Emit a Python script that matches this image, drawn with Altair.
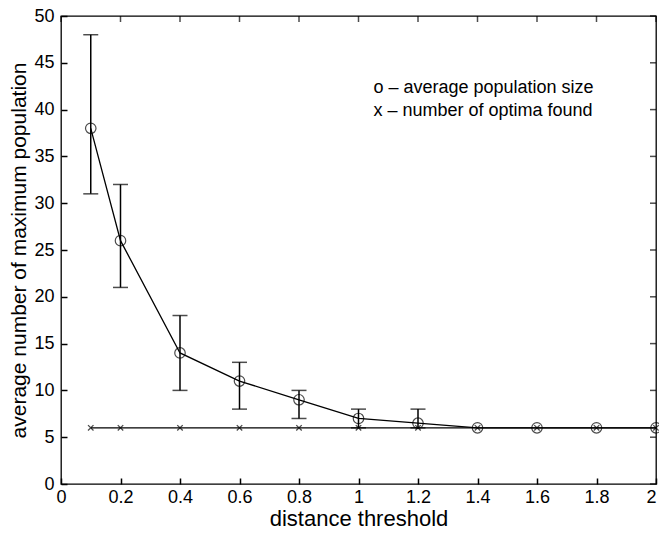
import altair as alt
import pandas as pd

# data
thresholds = [0.1, 0.2, 0.4, 0.6, 0.8, 1.0, 1.2, 1.4, 1.6, 1.8, 2.0]
avg_pop = [38, 26, 14, 11, 9, 7, 6.5, 6, 6, 6, 6]
optima = [6, 6, 6, 6, 6, 6, 6, 6, 6, 6, 6]
err_x = [0.1, 0.2, 0.4, 0.6, 0.8, 1.0, 1.2]
err_low = [31, 21, 10, 8, 7, 6, 6]
err_high = [48, 32, 18, 13, 10, 8, 8]
legend_text = ["o \u2013 average population size", "x \u2013 number of optima found"]
legend_x = [1.05, 1.05]
legend_y = [42.3, 39.9]
x_ticks = [0, 0.2, 0.4, 0.6, 0.8, 1, 1.2, 1.4, 1.6, 1.8, 2]
y_ticks = [0, 5, 10, 15, 20, 25, 30, 35, 40, 45, 50]

df = pd.DataFrame({"x": thresholds, "avg": avg_pop, "opt": optima})
err = pd.DataFrame({"x": err_x, "lo": err_low, "hi": err_high})
leg = pd.DataFrame({"t": legend_text, "x": legend_x, "y": legend_y})
xt = pd.DataFrame({"v": x_ticks})
yt = pd.DataFrame({"v": y_ticks})

FONT = "Liberation Sans"
TICK = 6
xs = alt.Scale(domain=[0, 2], nice=False, zero=False)
ys = alt.Scale(domain=[0, 50], nice=False)

x_axis = alt.Axis(values=x_ticks, title="distance threshold", orient="bottom",
                  format="~g", offset=-TICK, tickSize=TICK, tickWidth=1.5,
                  domain=False, grid=False,
                  labelPadding=4, labelFontSize=18, titleFontSize=22,
                  titleFontWeight="normal", labelFont=FONT, titleFont=FONT,
                  labelColor="black", titleColor="black", tickColor="black",
                  titlePadding=2, labelFlush=False,
                  labelAlign=alt.condition("datum.value == 2", alt.value("right"),
                                           alt.value("center")))
y_axis = alt.Axis(values=y_ticks, title="average number of maximum population",
                  orient="left", format="~g", offset=-TICK, tickSize=TICK,
                  tickWidth=1.5, domain=False, grid=False, labelPadding=7,
                  labelFontSize=18, titleFontSize=21, titleFontWeight="normal",
                  labelFont=FONT, titleFont=FONT, labelColor="black",
                  titleColor="black", tickColor="black", titlePadding=4,
                  labelFlush=False)

base = alt.Chart(df)

line_avg = base.mark_line(color="black", strokeWidth=1.3).encode(
    x=alt.X("x:Q", scale=xs, axis=x_axis),
    y=alt.Y("avg:Q", scale=ys, axis=y_axis),
)
pts_avg = base.mark_point(shape="circle", filled=False, color="black", size=110,
                          strokeWidth=1.2).encode(x=alt.X("x:Q", scale=xs),
                                                  y=alt.Y("avg:Q", scale=ys))
line_opt = base.mark_line(color="black", strokeWidth=1.3).encode(
    x=alt.X("x:Q", scale=xs), y=alt.Y("opt:Q", scale=ys))
pts_opt = base.mark_point(shape="M-1,-1L1,1M1,-1L-1,1", filled=False, color="black",
                          size=30, strokeWidth=1.3).encode(
    x=alt.X("x:Q", scale=xs), y=alt.Y("opt:Q", scale=ys))

ebase = alt.Chart(err)
erule = ebase.mark_rule(color="black", strokeWidth=1.5).encode(
    x=alt.X("x:Q", scale=xs), y=alt.Y("lo:Q", scale=ys), y2="hi:Q")
cap_lo = ebase.mark_tick(color="black", orient="horizontal", size=15,
                         thickness=1.5).encode(x=alt.X("x:Q", scale=xs),
                                               y=alt.Y("lo:Q", scale=ys))
cap_hi = ebase.mark_tick(color="black", orient="horizontal", size=15,
                         thickness=1.5).encode(x=alt.X("x:Q", scale=xs),
                                               y=alt.Y("hi:Q", scale=ys))

txt = alt.Chart(leg).mark_text(align="left", baseline="middle", fontSize=18,
                               font=FONT, color="black").encode(
    x=alt.X("x:Q", scale=xs), y=alt.Y("y:Q", scale=ys), text="t:N")

# inward ticks on the top and right edges of the box
top_ticks = alt.Chart(xt).mark_tick(color="black", orient="vertical", size=TICK,
                                    thickness=1.5, yOffset=TICK / 2).encode(
    x=alt.X("v:Q", scale=xs), y=alt.datum(50))
right_ticks = alt.Chart(yt).mark_tick(color="black", orient="horizontal", size=TICK,
                                      thickness=1.5, xOffset=-TICK / 2).encode(
    y=alt.Y("v:Q", scale=ys), x=alt.datum(2))

chart = alt.layer(
    line_avg, erule, cap_lo, cap_hi, line_opt, pts_opt, pts_avg, txt,
    top_ticks, right_ticks
).properties(
    width=595, height=468,
    autosize=alt.AutoSizeParams(type="none"),
    padding={"left": 61, "top": 16, "right": 3, "bottom": 53},
    background="white",
).configure_view(stroke="black", strokeWidth=1.3)

chart.save("out.html", embed_options={"renderer": "svg", "actions": False})
